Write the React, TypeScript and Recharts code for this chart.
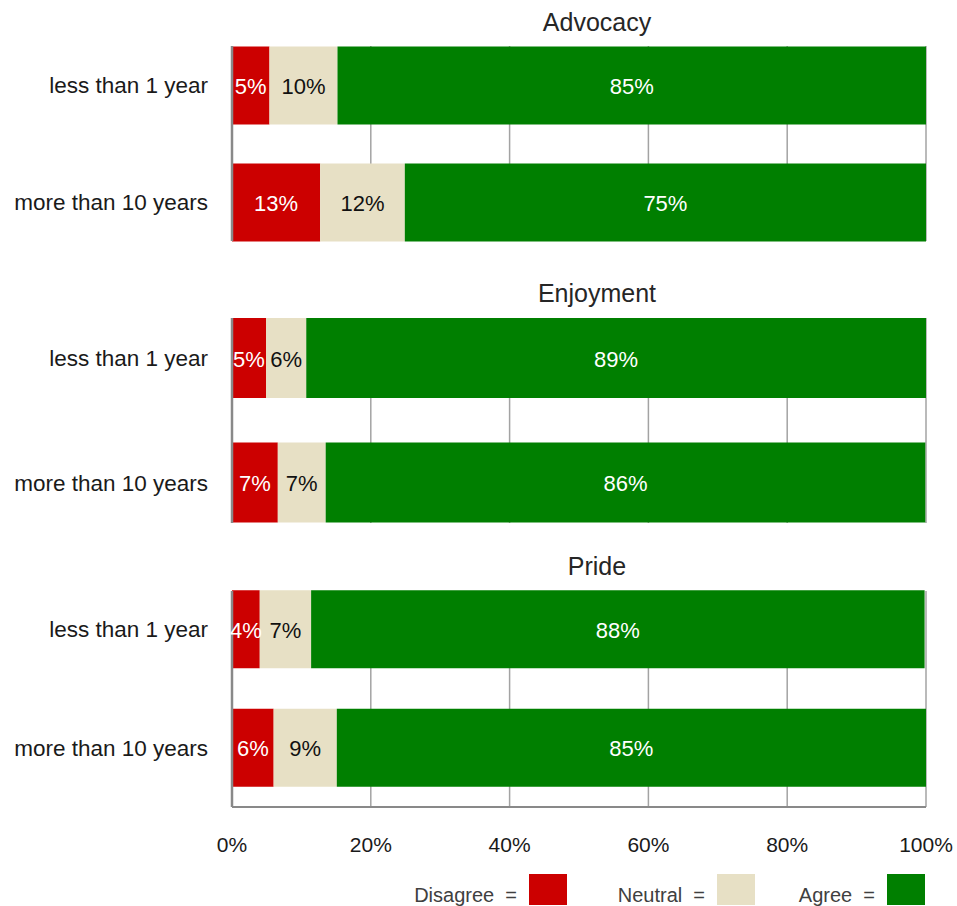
import { BarChart, Bar, XAxis, YAxis, CartesianGrid, LabelList } from 'recharts'

const panelTitles = ['Advocacy', 'Enjoyment', 'Pride']
const tenureGroups = ['less than 1 year', 'more than 10 years']
const disagreeValues = [[5.4, 12.7], [4.9, 6.6], [4.0, 6.0]]
const neutralValues = [[9.8, 12.2], [5.8, 6.9], [7.4, 9.1]]
const agreeValues = [[84.8, 75.1], [89.3, 86.4], [88.4, 84.9]]
const percentTicks = [0, 20, 40, 60, 80, 100]
const legendNames = ['Disagree', 'Neutral', 'Agree']

const RED = '#cc0000'
const BEIGE = '#e7e0c5'
const GREEN = '#007f00'
const AXIS = '#898989'
const FONT = '"Liberation Sans", Arial, sans-serif'

// where each small chart sits on the page
const layouts = [
  { top: 0, height: 250, mTop: 46, mBottom: 9, padTop: -19.5, padBottom: -19.5, barSize: 78, titleTop: 9.5 },
  { top: 270, height: 270, mTop: 48, mBottom: 17, padTop: -22, padBottom: -22, barSize: 80, titleTop: 280.5 },
  { top: 540, height: 330, mTop: 51, mBottom: 0, padTop: -20.75, padBottom: 0, barSize: 78, titleTop: 554 },
]

const pct = (v: unknown) => `${Math.round(Number(v))}%`

function Panel({ idx }: { idx: number }) {
  const lay = layouts[idx]
  const isLast = idx === panelTitles.length - 1
  const data = tenureGroups.map((g, i) => ({
    group: g,
    disagree: disagreeValues[idx][i],
    neutral: neutralValues[idx][i],
    agree: agreeValues[idx][i],
  }))

  return (
    <div style={{ position: 'absolute', left: 0, top: lay.top }}>
      <BarChart
        width={957}
        height={lay.height}
        data={data}
        layout="vertical"
        margin={{ top: lay.mTop, right: 31, left: 0, bottom: lay.mBottom }}
      >
        <CartesianGrid vertical horizontal={false} stroke="#a3a3a3" strokeWidth={1.5} />
        <XAxis
          type="number"
          domain={[0, 100]}
          ticks={percentTicks}
          tickFormatter={(v: number) => `${v}%`}
          hide={!isLast}
          height={63}
          axisLine={{ stroke: AXIS, strokeWidth: 2 }}
          tickLine={false}
          tickSize={0}
          tickMargin={30}
          tick={{ fill: '#1a1a1a', fontSize: 21 }}
        />
        <YAxis
          type="category"
          dataKey="group"
          width={232}
          padding={{ top: lay.padTop, bottom: lay.padBottom }}
          axisLine={{ stroke: AXIS, strokeWidth: 2.5 }}
          tickLine={false}
          tickSize={0}
          tickMargin={24}
          tick={{ fill: '#1a1a1a', fontSize: 22.5 }}
        />
        <Bar dataKey="disagree" stackId="s" fill={RED} barSize={lay.barSize} isAnimationActive={false}>
          <LabelList dataKey="disagree" position="center" formatter={pct} fill="#fff" fontSize={22} dy={1} />
        </Bar>
        <Bar dataKey="neutral" stackId="s" fill={BEIGE} barSize={lay.barSize} isAnimationActive={false}>
          <LabelList dataKey="neutral" position="center" formatter={pct} fill="#111" fontSize={22} dy={1} />
        </Bar>
        <Bar dataKey="agree" stackId="s" fill={GREEN} barSize={lay.barSize} isAnimationActive={false}>
          <LabelList dataKey="agree" position="center" formatter={pct} fill="#fff" fontSize={22} dy={1} />
        </Bar>
      </BarChart>
      <div style={{
        position: 'absolute', left: 597, top: lay.titleTop - lay.top, transform: 'translateX(-50%)',
        fontSize: 25, lineHeight: '25px', color: '#262626', whiteSpace: 'nowrap',
      }}>
        {panelTitles[idx]}
      </div>
    </div>
  )
}

const legendColors = [RED, BEIGE, GREEN]
const legendSquareLeft = [529, 717, 887]

export default function App() {
  return (
    <div style={{ position: 'absolute', left: 0, top: 0, width: 957, height: 906, fontFamily: FONT, background: '#fff' }}>
      {panelTitles.map((_, i) => <Panel key={i} idx={i} />)}
      {legendNames.map((name, i) => (
        <div key={name}>
          <div style={{
            position: 'absolute', right: 957 - legendSquareLeft[i] + 12, top: 885,
            fontSize: 20, lineHeight: '20px', color: '#404040', whiteSpace: 'pre',
          }}>
            {`${name}  =`}
          </div>
          <div style={{
            position: 'absolute', left: legendSquareLeft[i], top: 874, width: 38, height: 31,
            background: legendColors[i],
          }} />
        </div>
      ))}
    </div>
  )
}
